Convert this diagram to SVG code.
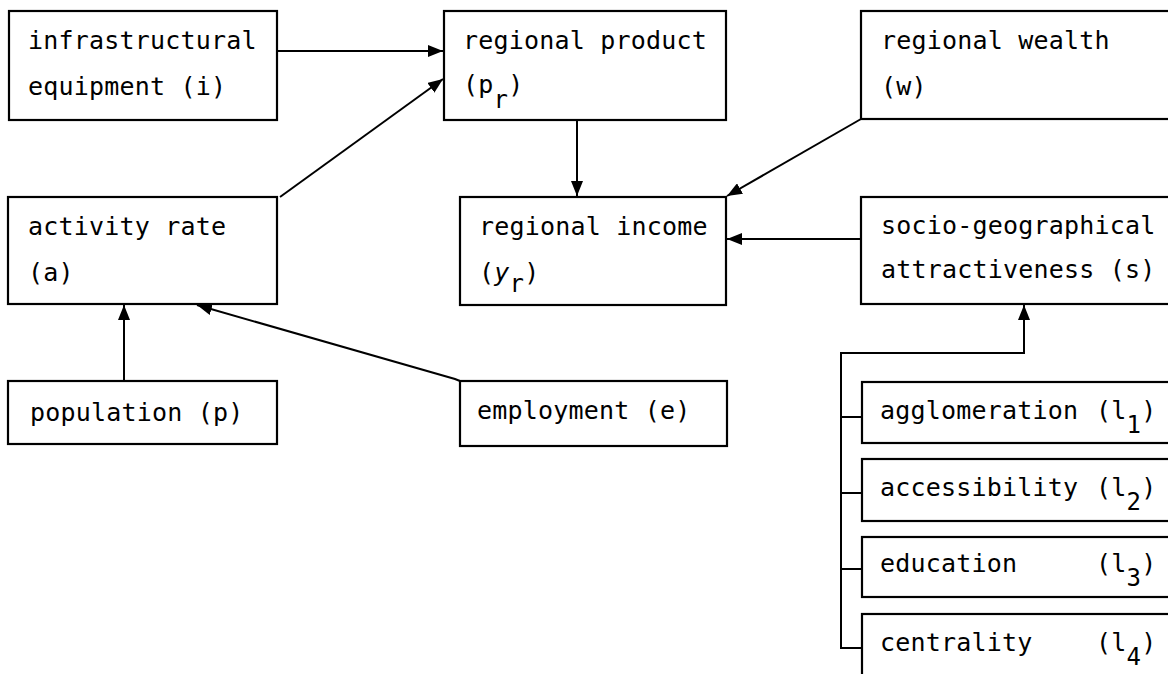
<svg xmlns="http://www.w3.org/2000/svg" width="1168" height="674" viewBox="0 0 1168 674">
<style>
.box{fill:#fff;stroke:#000;stroke-width:2.2}
.t{font-family:"DejaVu Sans Mono","Liberation Mono",monospace;font-size:25px;fill:#000;letter-spacing:0.2px}
.sub{font-size:24px}
.c{fill:none;stroke:#000;stroke-width:2}
</style>
<defs>
<marker id="ah" markerUnits="userSpaceOnUse" markerWidth="16" markerHeight="12" refX="15" refY="6" orient="auto">
<path d="M0,0 L15,6 L0,12 z" fill="#000"/>
</marker>
</defs>
<rect width="1168" height="674" fill="#fff"/>
<g id="connectors">
<line class="c" x1="277" y1="51" x2="443" y2="51" marker-end="url(#ah)"/>
<line class="c" x1="280" y1="197" x2="443" y2="79" marker-end="url(#ah)"/>
<line class="c" x1="577" y1="120" x2="577" y2="196" marker-end="url(#ah)"/>
<line class="c" x1="861" y1="119" x2="727" y2="196" marker-end="url(#ah)"/>
<line class="c" x1="861" y1="239" x2="727" y2="239" marker-end="url(#ah)"/>
<line class="c" x1="124" y1="381" x2="124" y2="305" marker-end="url(#ah)"/>
<polyline class="c" points="460,381 455,379 197,305" marker-end="url(#ah)"/>
<polyline class="c" points="862,648 841,648 841,353 1024,353 1024,305" marker-end="url(#ah)"/>
<line class="c" x1="841" y1="417" x2="862" y2="417"/>
<line class="c" x1="841" y1="493" x2="862" y2="493"/>
<line class="c" x1="841" y1="569" x2="862" y2="569"/>
</g>
<g id="infrastructure">
<rect class="box" x="9" y="11" width="268" height="109"/>
<text class="t" x="28" y="49">infrastructural</text>
<text class="t" x="28" y="95">equipment (i)</text>
</g>
<g id="regional-product">
<rect class="box" x="444" y="11" width="282" height="109"/>
<text class="t" x="463" y="49">regional product</text>
<text class="t" x="463" y="93">(p<tspan class="sub" dy="15">r</tspan><tspan dy="-15">)</tspan></text>
</g>
<g id="regional-wealth">
<rect class="box" x="861" y="11" width="320" height="108"/>
<text class="t" x="881" y="49">regional wealth</text>
<text class="t" x="881" y="95">(w)</text>
</g>
<g id="activity-rate">
<rect class="box" x="8" y="197" width="269" height="107"/>
<text class="t" x="28" y="235">activity rate</text>
<text class="t" x="28" y="281">(a)</text>
</g>
<g id="regional-income">
<rect class="box" x="460" y="197" width="266" height="108"/>
<text class="t" x="479" y="235">regional income</text>
<text class="t" x="479" y="281">(<tspan font-style="italic">y</tspan><tspan class="sub" dy="11">r</tspan><tspan dy="-11">)</tspan></text>
</g>
<g id="socio-geographical">
<rect class="box" x="861" y="197" width="320" height="107"/>
<text class="t" x="881" y="234">socio-geographical</text>
<text class="t" x="881" y="278">attractiveness (s)</text>
</g>
<g id="population">
<rect class="box" x="8" y="381" width="269" height="63"/>
<text class="t" x="30" y="421">population (p)</text>
</g>
<g id="employment">
<rect class="box" x="460" y="381" width="267" height="65"/>
<text class="t" x="477" y="419">employment (e)</text>
</g>
<g id="agglomeration">
<rect class="box" x="862" y="382" width="320" height="61"/>
<text class="t" x="880" y="419">agglomeration<tspan x="1096">(l</tspan><tspan class="sub" dy="14">1</tspan><tspan dy="-14">)</tspan></text>
</g>
<g id="accessibility">
<rect class="box" x="862" y="459" width="320" height="62"/>
<text class="t" x="880" y="496">accessibility<tspan x="1096">(l</tspan><tspan class="sub" dy="14">2</tspan><tspan dy="-14">)</tspan></text>
</g>
<g id="education">
<rect class="box" x="862" y="537" width="320" height="60"/>
<text class="t" x="880" y="572">education<tspan x="1096">(l</tspan><tspan class="sub" dy="14">3</tspan><tspan dy="-14">)</tspan></text>
</g>
<g id="centrality">
<rect class="box" x="862" y="614" width="320" height="80"/>
<text class="t" x="880" y="651">centrality<tspan x="1096">(l</tspan><tspan class="sub" dy="14">4</tspan><tspan dy="-14">)</tspan></text>
</g>
</svg>
